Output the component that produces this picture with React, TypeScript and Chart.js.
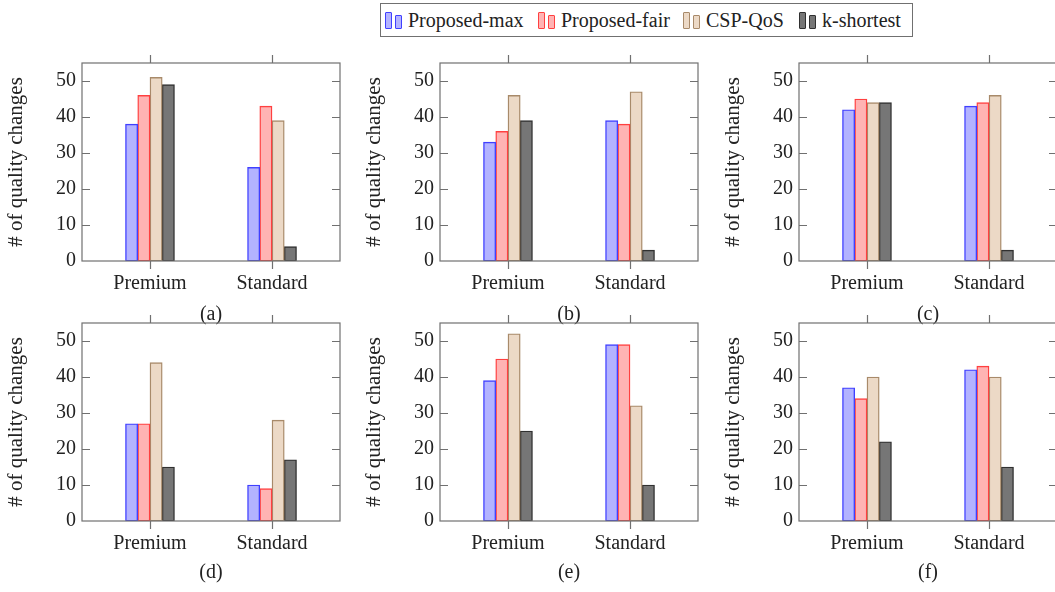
import React, { useEffect, useRef } from 'react';
import { Chart, registerables } from 'chart.js';

Chart.register(...registerables);

// ---------- data ----------
const categories = ['Premium', 'Standard'];
const seriesNames = ['Proposed-max', 'Proposed-fair', 'CSP-QoS', 'k-shortest'];
const panelLabels = ['(a)', '(b)', '(c)', '(d)', '(e)', '(f)'];
const yTickValues = [0, 10, 20, 30, 40, 50];
const yAxisTitle = '# of quality changes';

// each panel: one row per series, [Premium, Standard]
const panelA = [[38, 26], [46, 43], [51, 39], [49, 4]];
const panelB = [[33, 39], [36, 38], [46, 47], [39, 3]];
const panelC = [[42, 43], [45, 44], [44, 46], [44, 3]];
const panelD = [[27, 10], [27, 9], [44, 28], [15, 17]];
const panelE = [[39, 49], [45, 49], [52, 32], [25, 10]];
const panelF = [[37, 42], [34, 43], [40, 40], [22, 15]];
const panels = [panelA, panelB, panelC, panelD, panelE, panelF];

// ---------- styles ----------
const fills = ['#b3b3ff', '#ffb3b3', '#ecd9c6', '#767676'];
const borders = ['#4040ff', '#ff4040', '#a88a6a', '#303030'];
const FONT = '"Liberation Serif", "Times New Roman", serif';
const TEXT = '#222222';
const FRAME = '#707070';

const framePlugin = {
  id: 'pgfFrame',
  afterDatasetsDraw(chart: any) {
    const { ctx, chartArea: a, scales } = chart;
    ctx.save();
    ctx.strokeStyle = FRAME;
    ctx.lineWidth = 1.2;
    ctx.strokeRect(a.left, a.top, a.right - a.left, a.bottom - a.top);
    ctx.beginPath();
    for (const v of yTickValues) {
      if (v === 0) continue;
      const y = Math.round(scales.y.getPixelForValue(v)) + 0.5;
      ctx.moveTo(a.left, y);
      ctx.lineTo(a.left + 8, y);
      ctx.moveTo(a.right, y);
      ctx.lineTo(a.right - 8, y);
    }
    categories.forEach((_, j) => {
      const x = Math.round(scales.x.getPixelForValue(j)) + 0.5;
      ctx.moveTo(x, a.bottom);
      ctx.lineTo(x, a.bottom + 8);
      ctx.moveTo(x, a.top);
      ctx.lineTo(x, a.top - 8);
    });
    ctx.stroke();
    ctx.restore();
  },
};

function makeConfig(values: number[][], caption: string, xAxisHeight: number): any {
  return {
    type: 'bar',
    data: {
      datasets: seriesNames.map((name, i) => ({
        label: name,
        data: categories.map((_, j) => ({ x: j, y: values[i][j] })),
        backgroundColor: fills[i],
        borderColor: borders[i],
        borderWidth: 1.4,
        borderSkipped: false,
        barThickness: 12.25,
      })),
    },
    options: {
      animation: false,
      responsive: false,
      devicePixelRatio: 1,
      layout: { padding: { top: 18, right: 10, left: 0, bottom: 0 } },
      plugins: { legend: { display: false }, tooltip: { enabled: false }, title: { display: false } },
      scales: {
        x: {
          type: 'linear',
          min: -0.557,
          max: 1.557,
          offset: false,
          grid: { display: false, drawTicks: false, offset: false },
          border: { display: false },
          afterBuildTicks: (s: any) => {
            s.ticks = categories.map((_, j) => ({ value: j }));
          },
          ticks: {
            callback: (v: any) => categories[v] ?? '',
            font: { family: FONT, size: 20 },
            color: TEXT,
            padding: 11,
            maxRotation: 0,
            autoSkip: false,
          },
          title: {
            display: true,
            text: caption,
            font: { family: FONT, size: 20 },
            color: TEXT,
            padding: { top: 0, bottom: 0 },
          },
          afterFit: (s: any) => {
            s.height = xAxisHeight;
          },
        },
        y: {
          min: 0,
          max: 55,
          grid: { display: false, drawTicks: false },
          border: { display: false },
          afterBuildTicks: (s: any) => {
            s.ticks = yTickValues.map((v) => ({ value: v }));
          },
          ticks: {
            font: { family: FONT, size: 20 },
            color: TEXT,
            padding: 6,
          },
          title: {
            display: true,
            text: yAxisTitle,
            font: { family: FONT, size: 21 },
            color: TEXT,
            padding: { top: 4, bottom: 0 },
          },
          afterFit: (s: any) => {
            s.width = 82;
          },
        },
      },
    },
    plugins: [framePlugin],
  };
}

const colLefts = [0, 358, 717];
const rowTops = [45, 305];
const rowHeights = [282, 280];
const rowXAxisHeights = [66, 64];
const legendItemLefts = [4, 157, 302, 418];

function Panel({ index }: { index: number }) {
  const ref = useRef<HTMLCanvasElement | null>(null);
  const row = Math.floor(index / 3);
  const col = index % 3;
  useEffect(() => {
    if (!ref.current) return;
    const chart = new Chart(ref.current, makeConfig(panels[index], panelLabels[index], rowXAxisHeights[row]));
    return () => chart.destroy();
  }, [index, row]);
  return (
    <div style={{ position: 'absolute', left: colLefts[col], top: rowTops[row], width: 350, height: rowHeights[row] }}>
      <canvas ref={ref} width={350} height={rowHeights[row]} style={{ display: 'block', width: 350, height: rowHeights[row] }} />
    </div>
  );
}

function LegendIcon({ i }: { i: number }) {
  const bar = (h: number): React.CSSProperties => ({
    width: 5,
    height: h,
    border: `1.4px solid ${borders[i]}`,
    background: fills[i],
    borderRadius: 1,
  });
  return (
    <div style={{ display: 'flex', alignItems: 'flex-end', gap: 3, height: 18, marginRight: 6 }}>
      <div style={bar(15)} />
      <div style={bar(12)} />
    </div>
  );
}

export default function App() {
  return (
    <div
      style={{
        position: 'absolute',
        left: 0,
        top: 0,
        width: 1055,
        height: 592,
        overflow: 'hidden',
        background: '#ffffff',
        fontFamily: FONT,
      }}
    >
      <div
        style={{
          position: 'absolute',
          left: 380,
          top: 3,
          width: 533,
          height: 34,
          boxSizing: 'border-box',
          border: `1.4px solid ${FRAME}`,
          color: TEXT,
          fontSize: 20,
          lineHeight: '20px',
        }}
      >
        {seriesNames.map((n, i) => (
          <div
            key={n}
            style={{
              position: 'absolute',
              left: legendItemLefts[i],
              top: 0,
              height: 31,
              display: 'flex',
              alignItems: 'center',
            }}
          >
            <LegendIcon i={i} />
            <span style={{ whiteSpace: 'nowrap' }}>{n}</span>
          </div>
        ))}
      </div>
      {panels.map((_, i) => (
        <Panel key={i} index={i} />
      ))}
    </div>
  );
}
